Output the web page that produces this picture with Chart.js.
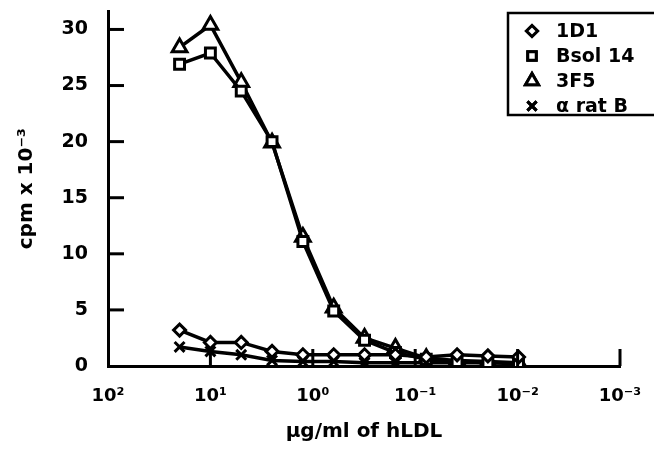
<!DOCTYPE html>
<html>
<head>
<meta charset="utf-8">
<script src="https://cdn.jsdelivr.net/npm/chart.js@4.4.0/dist/chart.umd.min.js"></script>
<style>
  html, body { margin: 0; padding: 0; background: #fff; }
</style>
</head>
<body>
<canvas id="bindingChart" width="654" height="452"></canvas>
<script>
// hLDL concentrations (ug/ml), 2-fold dilutions
const concentrations = [20, 10, 5, 2.5, 1.25, 0.625, 0.3125, 0.156, 0.078, 0.039, 0.0195, 0.0098];

// cpm x 10^-3 for each antibody
const cpm1D1   = [3.2, 2.1, 2.1, 1.3, 1.0, 1.0, 1.0, 1.0, 0.8, 1.0, 0.9, 0.8];
const cpmBsol  = [26.9, 27.9, 24.5, 20.0, 11.1, 4.9, 2.3, 1.2, 0.6, 0.4, 0.3, 0.2];
const cpm3F5   = [28.4, 30.4, 25.3, 19.9, 11.5, 5.2, 2.5, 1.6, 0.7, 0.5, 0.4, 0.3];
const cpmRatB  = [1.7, 1.3, 1.0, 0.5, 0.4, 0.4, 0.3, 0.3, 0.3, 0.3, 0.3, 0.3];

const seriesNames = ['1D1', 'Bsol 14', '3F5', 'α rat B'];

// axis ticks
const xTickValues = [100, 10, 1, 0.1, 0.01, 0.001];
const xTickLabels = ['10²', '10¹', '10⁰', '10⁻¹', '10⁻²', '10⁻³'];
const yTickValues = [0, 5, 10, 15, 20, 25, 30];

const FONT = '"DejaVu Sans", "Liberation Sans", Arial, sans-serif';

function toPoints(values) {
  return concentrations.map((c, i) => ({ x: c, y: values[i] }));
}

function makeSet(label, values, style, radius) {
  return {
    label: label,
    data: toPoints(values),
    borderColor: '#000',
    borderWidth: 3.5,
    pointStyle: style,
    pointRadius: radius,
    pointBackgroundColor: '#fff',
    pointBorderColor: '#000',
    pointBorderWidth: 3,
    showLine: true,
    tension: 0
  };
}

// inward tick marks like the original figure
const innerTicks = {
  id: 'innerTicks',
  afterDatasetsDraw(chart) {
    const { ctx, chartArea, scales } = chart;
    ctx.save();
    ctx.strokeStyle = '#000';
    ctx.lineWidth = 3;
    yTickValues.forEach(v => {
      if (v === 0) return;
      const py = scales.y.getPixelForValue(v);
      ctx.beginPath();
      ctx.moveTo(chartArea.left, py);
      ctx.lineTo(chartArea.left + 16, py);
      ctx.stroke();
    });
    xTickValues.forEach(v => {
      if (v === 100) return;
      const px = scales.x.getPixelForValue(v);
      ctx.beginPath();
      ctx.moveTo(px, chartArea.bottom);
      ctx.lineTo(px, chartArea.bottom - 17);
      ctx.stroke();
    });
    ctx.restore();
  }
};

// boxed legend in the top right corner
const boxLegend = {
  id: 'boxLegend',
  afterDraw(chart) {
    const { ctx } = chart;
    const styles = ['rectRot', 'rect', 'triangle', 'crossRot'];
    const radii = [5.5, 6, 7.5, 6.5];
    ctx.save();
    ctx.strokeStyle = '#000';
    ctx.lineWidth = 2.5;
    ctx.strokeRect(508, 13, 160, 102);
    ctx.font = 'bold 19px ' + FONT;
    ctx.textBaseline = 'middle';
    seriesNames.forEach((name, i) => {
      const cy = 31 + i * 25;
      ctx.lineWidth = 3;
      ctx.fillStyle = '#fff';
      Chart.helpers.drawPoint(ctx, { pointStyle: styles[i], radius: radii[i], borderWidth: 3 }, 532, cy);
      ctx.fill();
      ctx.stroke();
      ctx.fillStyle = '#000';
      ctx.fillText(name, 556, cy + 1);
    });
    ctx.restore();
  }
};

document.addEventListener('DOMContentLoaded', () => {
  const ctx = document.getElementById('bindingChart');
  new Chart(ctx.getContext('2d'), {
    type: 'scatter',
    data: {
      datasets: [
        makeSet(seriesNames[0], cpm1D1, 'rectRot', 6),
        makeSet(seriesNames[1], cpmBsol, 'rect', 7),
        makeSet(seriesNames[2], cpm3F5, 'triangle', 8.5),
        makeSet(seriesNames[3], cpmRatB, 'crossRot', 7)
      ]
    },
    options: {
      responsive: false,
      devicePixelRatio: 1,
      animation: false,
      layout: { padding: { top: 0, right: 34, left: 0, bottom: 0 } },
      plugins: {
        legend: { display: false },
        tooltip: { enabled: false }
      },
      scales: {
        x: {
          type: 'logarithmic',
          reverse: true,
          min: 0.001,
          max: 100,
          position: 'bottom',
          grid: { display: false },
          border: { display: true, color: '#000', width: 3 },
          afterBuildTicks: scale => { scale.ticks = xTickValues.map(v => ({ value: v })); },
          afterFit: scale => {
            scale.height = 86;
            scale.paddingLeft = 0;
            scale.paddingRight = 0;
          },
          ticks: {
            autoSkip: false,
            maxRotation: 0,
            padding: 12,
            color: '#000',
            font: { family: FONT, size: 18, weight: 'bold' },
            callback: (value, index) => xTickLabels[index]
          },
          title: {
            display: true,
            text: 'µg/ml of hLDL',
            color: '#000',
            font: { family: FONT, size: 20, weight: 'bold' },
            padding: { top: 0, bottom: 8 }
          }
        },
        y: {
          type: 'linear',
          min: 0,
          max: 31.6,
          grid: { display: false },
          border: { display: true, color: '#000', width: 3 },
          afterBuildTicks: scale => { scale.ticks = yTickValues.map(v => ({ value: v })); },
          afterFit: scale => {
            scale.width = 108;
            scale.paddingTop = 0;
            scale.paddingBottom = 0;
          },
          ticks: {
            padding: 12,
            color: '#000',
            font: { family: FONT, size: 19, weight: 'bold' }
          },
          title: {
            display: true,
            text: 'cpm x 10⁻³',
            color: '#000',
            font: { family: FONT, size: 20, weight: 'bold' },
            padding: { top: 15, bottom: 0 }
          }
        }
      }
    },
    plugins: [innerTicks, boxLegend]
  });
});
</script>
</body>
</html>
